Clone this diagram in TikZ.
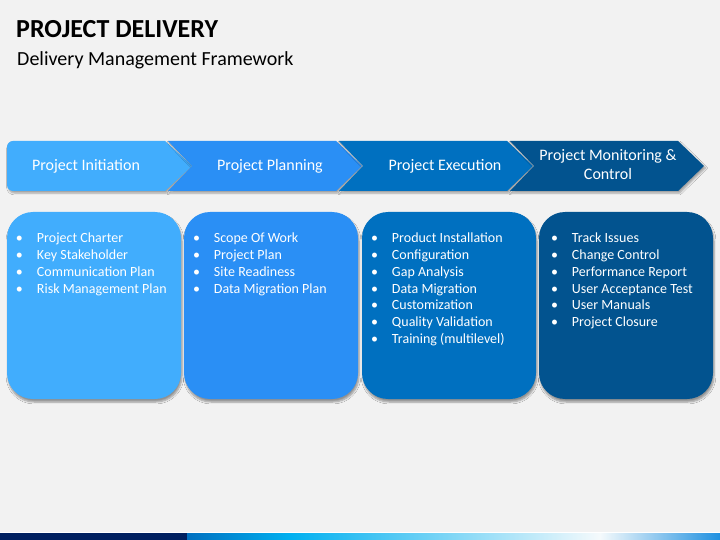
\documentclass[tikz,border=0pt]{standalone}
\usepackage{fontspec}
\setmainfont{Carlito}
\usetikzlibrary{shadows.blur}
\definecolor{bgray}{RGB}{242,242,242}
\definecolor{c1}{RGB}{65,173,253}
\definecolor{c2}{RGB}{42,143,245}
\definecolor{c3}{RGB}{0,112,192}
\definecolor{c4}{RGB}{2,83,143}
\definecolor{navy}{RGB}{0,32,96}
\newcommand\itm[1]{\makebox[21pt][l]{\textbullet}#1}
\begin{document}
\begin{tikzpicture}[x=1pt,y=-1pt,
    chev/.style={blur shadow={shadow xshift=1.5pt,shadow yshift=-2pt,shadow blur steps=4,shadow opacity=35}},
    card/.style={rounded corners=26pt,minimum width=174pt,minimum height=187pt,inner sep=0pt,
        blur shadow={shadow xshift=1pt,shadow yshift=-3pt,shadow blur steps=5,shadow opacity=40}},
    phase/.style={text=white,font=\fontsize{16}{19.5}\selectfont,align=center},
    items/.style={text=white,font=\fontsize{14}{16.8}\selectfont,align=left,anchor=north west,inner sep=0pt}]
        \fill[bgray] (0,0) rectangle (720,540);

        \node[anchor=base west,inner sep=0pt,font=\fontsize{26}{30}\selectfont\bfseries] (title) at (16,38) {PROJECT DELIVERY};
        \node[anchor=base west,inner sep=0pt,font=\fontsize{20}{24}\selectfont] (sub) at (17,66) {Delivery Management Framework};

        \fill[chev,c1] (165,141) -- (192,166) -- (165,191) [rounded corners=6pt] -- (7,191) -- (7,141) [sharp corners] -- cycle;
        \foreach \i/\col in {2/c2,3/c3,4/c4}
            \fill[chev,\col] ({168+(\i-2)*171},141) -- ++(168,0) -- ++(26,25) -- ++(-26,25) -- ++(-168,0) -- ++(24,-25) -- cycle;

        \node[phase] (ph1) at (86,166) {Project Initiation};
        \node[phase] (ph2) at (270,166) {Project Planning};
        \node[phase] (ph3) at (445,166) {Project Execution};
        \node[phase] (ph4) at (608,164.5) {Project Monitoring \&\\Control};

        \node[card,fill=c1] (k1) at (94,305.5) {};
        \node[card,fill=c2] (k2) at (271,305.5) {};
        \node[card,fill=c3] (k3) at (449,305.5) {};
        \node[card,fill=c4] (k4) at (626,305.5) {};

        \node[items] (t1) at ([xshift=9pt,yshift=-21pt]k1.north west) {\itm{Project Charter}\\\itm{Key Stakeholder}\\\itm{Communication Plan}\\\itm{Risk Management Plan}};
        \node[items] (t2) at ([xshift=9pt,yshift=-21pt]k2.north west) {\itm{Scope Of Work}\\\itm{Project Plan}\\\itm{Site Readiness}\\\itm{Data Migration Plan}};
        \node[items] (t3) at ([xshift=9pt,yshift=-21pt]k3.north west) {\itm{Product Installation}\\\itm{Configuration}\\\itm{Gap Analysis}\\\itm{Data Migration}\\\itm{Customization}\\\itm{Quality Validation}\\\itm{Training (multilevel)}};
        \node[items] (t4) at ([xshift=12pt,yshift=-21pt]k4.north west) {\itm{Track Issues}\\\itm{Change Control}\\\itm{Performance Report}\\\itm{User Acceptance Test}\\\itm{User Manuals}\\\itm{Project Closure}};

        \fill[white] (0,532) rectangle (720,533);
        \fill[navy] (0,533) rectangle (187,540);
        \shade[left color=c3,right color={rgb,255:red,0;green,176;blue,240}] (187,533) rectangle (290,540);
        \shade[left color={rgb,255:red,0;green,176;blue,240},right color={rgb,255:red,245;green,250;blue,252}] (290,533) rectangle (600,540);
        \shade[left color={rgb,255:red,245;green,250;blue,252},right color={rgb,255:red,30;green,144;blue,224}] (600,533) rectangle (720,540);
    \end{tikzpicture}
\end{document}
